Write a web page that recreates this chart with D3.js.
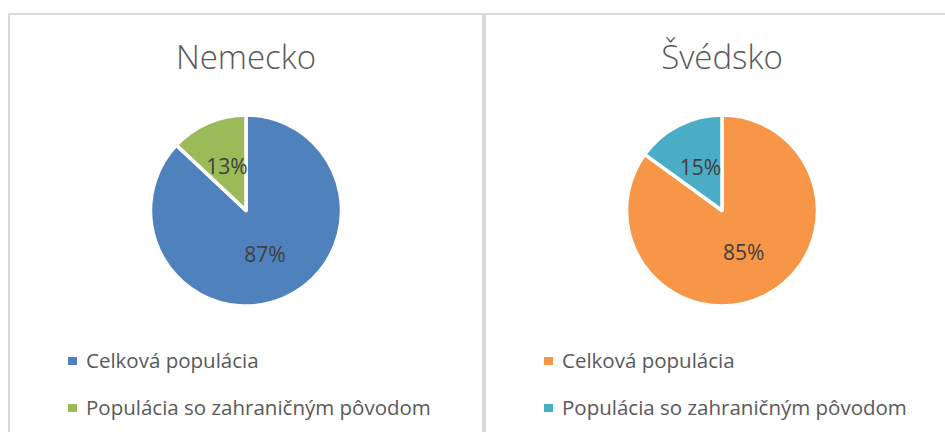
<!DOCTYPE html>
<html>
<head>
<meta charset="utf-8">
<script src="https://cdn.jsdelivr.net/npm/d3@7"></script>
<style>
  body { margin: 0; background: #fff; }
  svg { display: block; font-family: 'Open Sans', sans-serif; }
</style>
</head>
<body>
<svg id="chart" width="945" height="432"></svg>
<script>
// chart data
var countries = ['Nemecko', 'Švédsko'];
var categories = ['Celková populácia', 'Populácia so zahraničným pôvodom'];
var germanyValues = [87, 13];
var swedenValues = [85, 15];
var germanyColors = ['#4f81bd', '#9bbb59'];
var swedenColors = ['#f79646', '#4bacc6'];

var panels = [
    { title: countries[0], values: germanyValues, colors: germanyColors },
    { title: countries[1], values: swedenValues, colors: swedenColors }
];

var svg = d3.select('#chart');
var panelW = 474, panelTop = 14;
var radius = 95.5;

var pie = d3.pie().sort(null).value(function (d) { return d; });
var arc = d3.arc().innerRadius(0).outerRadius(radius);

panels.forEach(function (p, i) {
    var x0 = 9 + i * (panelW + 2);
    var g = svg.append('g').attr('transform', 'translate(' + x0 + ',0)');

    // panel frame
    g.append('rect')
        .attr('x', 0).attr('y', panelTop)
        .attr('width', panelW).attr('height', 500)
        .attr('fill', 'none')
        .attr('stroke', '#d9d9d9')
        .attr('stroke-width', 2);

    g.append('text')
        .attr('x', panelW / 2).attr('y', 69)
        .attr('text-anchor', 'middle')
        .attr('font-size', 33)
        .attr('font-weight', 300)
        .attr('fill', '#595959')
        .text(p.title);

    var pg = g.append('g').attr('transform', 'translate(' + (panelW / 2) + ',210.5)');
    var slices = pie(p.values);

    pg.selectAll('path')
        .data(slices)
        .enter().append('path')
        .attr('d', arc)
        .attr('fill', function (d, j) { return p.colors[j]; })
        .attr('stroke', '#fff')
        .attr('stroke-width', 3.5)
        .attr('stroke-linejoin', 'round');

    pg.selectAll('text')
        .data(slices)
        .enter().append('text')
        .attr('transform', function (d) { return 'translate(' + arc.centroid(d) + ')'; })
        .attr('text-anchor', 'middle')
        .attr('dy', '0.35em')
        .attr('font-size', 21)
        .attr('fill', '#404040')
        .text(function (d) { return d.data + '%'; });

    // legend
    var lg = g.selectAll('.legend')
        .data(categories)
        .enter().append('g')
        .attr('class', 'legend')
        .attr('transform', function (d, j) {
            return 'translate(59,' + (361 + j * 47) + ')';
        });
    lg.append('rect')
        .attr('x', 0).attr('y', -4)
        .attr('width', 9).attr('height', 8)
        .attr('fill', function (d, j) { return p.colors[j]; });
    lg.append('text')
        .attr('x', 18).attr('y', 0)
        .attr('dy', '0.35em')
        .attr('font-size', 20.5)
        .attr('fill', '#595959')
        .text(function (d) { return d; });
});
</script>
</body>
</html>
